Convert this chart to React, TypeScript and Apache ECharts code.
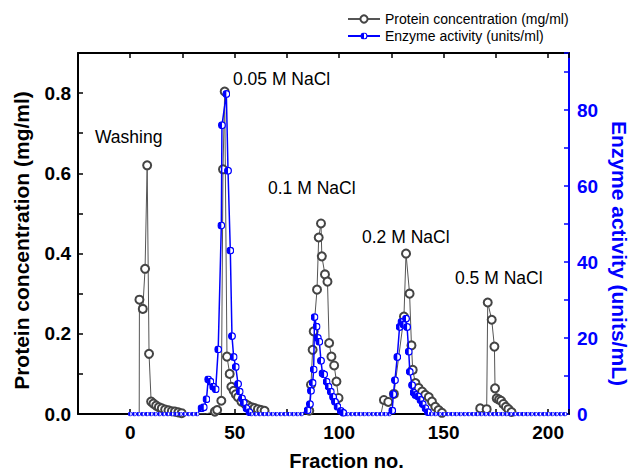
import React, { useEffect, useRef } from "react";
import * as echarts from "echarts";

// Protein concentration (mg/ml) vs fraction
const proteinFraction = [
  0, 4.3, 4.4, 6.0, 7.1, 8.1, 9.0, 10.0, 11.1, 12.4, 13.7, 15.1, 16.7, 18.3, 19.9, 21.4, 23.0, 24.6,
  36, 40.5, 41.6, 43.6, 44.4, 45.2, 46.3, 47.6, 48.4, 49.5, 50.5, 51.6, 53.2, 54.8, 56.4, 58.0, 59.5,
  61.1, 62.7, 64.3, 66,
  84, 85.7, 86.5, 87.3, 87.8, 89.4, 90.2, 91.3, 91.7, 93.2, 94.4, 95.2, 96.3, 97.6, 98.7, 99.7, 101,
  120, 121.4, 123.5, 126.2, 131, 132, 133.7, 134.6, 135.2, 136.5, 138, 139.7, 141.2, 142.9, 144.4,
  146, 147.6, 149.2, 151,
  166, 167.5, 170.6, 171.1, 173, 174.3, 174.6, 175.4, 176.5, 177.5, 178.6, 179.8, 181, 182.5, 184, 205,
];
const proteinConc = [
  0, 0, 0.285, 0.262, 0.362, 0.62, 0.15, 0.031, 0.026, 0.021, 0.017, 0.014, 0.011, 0.009, 0.007, 0.006, 0.004, 0.002,
  0, 0.006, 0.01, 0.033, 0.61, 0.804, 0.143, 0.1, 0.068, 0.058, 0.049, 0.042, 0.031, 0.026, 0.021, 0.017, 0.015,
  0.012, 0.01, 0.008, 0,
  0, 0.008, 0.073, 0.16, 0.206, 0.31, 0.44, 0.475, 0.393, 0.348, 0.33, 0.177, 0.143, 0.121, 0.081, 0.04, 0,
  0, 0.035, 0.03, 0.05, 0.243, 0.4, 0.3, 0.171, 0.11, 0.077, 0.065, 0.056, 0.048, 0.042, 0.031,
  0.018, 0.01, 0.003, 0,
  0, 0.014, 0.012, 0.278, 0.235, 0.168, 0.064, 0.039, 0.036, 0.033, 0.025, 0.018, 0.012, 0.005, 0, 0,
];

// Enzyme activity (units/ml) vs fraction
const enzymeFraction = [
  0, 2, 4, 6, 8, 10, 12, 14, 16, 18, 20, 22, 24, 26, 28, 30, 32,
  34.1, 35.2, 36.5, 37.3, 38.4, 39.7, 40.9, 42.1, 43.6, 43.9, 46, 46.8, 47.9, 48.7, 49.5, 50.5, 51.6,
  52.4, 53.5, 54.3, 55.6, 57, 58,
  60, 62, 64, 66, 68, 70, 72, 74, 76, 78, 80, 82,
  84.9, 86, 86.5, 87.3, 87.8, 88.2, 89.2, 89.8, 90.5, 91.3, 92, 92.8, 94, 94.9, 96, 97.1, 98, 99.2,
  100.8, 102, 104,
  106, 108, 110, 112, 114, 116, 118, 120, 122, 124,
  125.4, 125.9, 126.7, 127.8, 128.9, 129.8, 130.8, 132, 132.5, 133.3, 133.8, 134.9, 135.6, 136.5,
  137.8, 138.9, 140, 141.3, 142.5, 144,
  146, 148, 150, 152, 154, 156, 158, 160, 162, 164, 166, 168, 170, 172, 174, 176, 178, 180, 182,
  184, 186, 188, 190, 192, 194, 196, 198, 200, 202, 204, 206, 208,
];
const enzymeActivity = [
  0, 0, 0, 0, 0, 0, 0, 0, 0, 0, 0, 0, 0, 0, 0, 0, 0,
  1.5, 1.8, 3.9, 9.1, 8.5, 7.2, 6.5, 17, 49.6, 76, 84.2, 64, 43, 20.5, 15, 12.4, 7.9,
  5.9, 4.1, 3, 1.5, 0.5, 0,
  0, 0, 0, 0, 0, 0, 0, 0, 0, 0, 0, 0,
  1.0, 2.6, 6.1, 8.2, 11.7, 25.5, 23, 20, 19, 14, 10.7, 10.4, 8.5, 7.2, 5.9, 4.5, 3.2, 1.9,
  0.8, 0.3, 0,
  0, 0, 0, 0, 0, 0, 0, 0, 0, 0,
  0.9, 5.2, 8.9, 15, 22.9, 24.2, 23.5, 25.1, 22.9, 16.4, 11.1, 7.6, 5.6, 5,
  4.6, 3.7, 2.6, 1.5, 0.5, 0,
  0, 0, 0, 0, 0, 0, 0, 0, 0, 0, 0, 0, 0, 0, 0, 0, 0, 0, 0,
  0, 0, 0, 0, 0, 0, 0, 0, 0, 0, 0, 0, 0,
];

const seriesNames = ["Protein concentration (mg/ml)", "Enzyme activity (units/ml)"];
const xTickLabels = [0, 50, 100, 150, 200];
const leftTickLabels = [0, 0.2, 0.4, 0.6, 0.8];
const rightTickLabels = [0, 20, 40, 60, 80];

const annotations = [
  { text: "Washing", x: 95, y: 137 },
  { text: "0.05 M NaCl", x: 233, y: 79 },
  { text: "0.1 M NaCl", x: 268, y: 188 },
  { text: "0.2 M NaCl", x: 362, y: 237 },
  { text: "0.5 M NaCl", x: 455, y: 278 },
];

const BLUE = "#0000ff";
const FONT = "'Liberation Sans', Arial, sans-serif";
const halfSvg =
  "<svg xmlns='http://www.w3.org/2000/svg' width='20' height='20' viewBox='0 0 20 20'>" +
  "<circle cx='10' cy='10' r='8.3' fill='white' stroke='#0000ff' stroke-width='3.2'/>" +
  "<path d='M10,1.7 A8.3,8.3 0 0,0 10,18.3 Z' fill='#0000ff'/></svg>";
const HALF_CIRCLE = "image://data:image/svg+xml;charset=utf-8," + encodeURIComponent(halfSvg);

export default function App() {
  const ref = useRef<HTMLDivElement>(null);
  useEffect(() => {
    if (!ref.current) return;
    const chart = echarts.init(ref.current, null, { renderer: "svg" });
    const near = (v: number, list: number[]) => list.some((t) => Math.abs(t - v) < 1e-6);
    const proteinData = proteinFraction.map((x, i) => [x, proteinConc[i]]);
    const enzymeData = enzymeFraction.map((x, i) => [x, enzymeActivity[i]]);
    const xAxisBase = {
      type: "value",
      min: -25,
      max: 210,
      interval: 25,
      splitLine: { show: false },
      axisLine: { show: true, onZero: false, lineStyle: { color: "#000", width: 2 } },
      axisTick: { show: true, inside: true, length: 5, lineStyle: { color: "#000", width: 1.5 } },
    };
    chart.setOption({
      animation: false,
      backgroundColor: "#fff",
      grid: { left: 78, right: 62, top: 53, bottom: 59, containLabel: false, outerBoundsMode: "none" },
      legend: {
        data: seriesNames,
        orient: "vertical",
        left: 342,
        top: 7,
        itemWidth: 32,
        itemHeight: 9,
        itemGap: 3,
        textStyle: { fontFamily: FONT, fontSize: 14, color: "#000" },
      },
      xAxis: [
        {
          ...xAxisBase,
          position: "bottom",
          name: "Fraction no.",
          nameLocation: "middle",
          nameGap: 37,
          nameTextStyle: {
            fontFamily: FONT,
            fontSize: 20,
            fontWeight: "bold",
            color: "#000",
            padding: [0, 0, 0, 46],
          },
          axisLabel: {
            margin: 9,
            fontFamily: FONT,
            fontSize: 19,
            fontWeight: "bold",
            color: "#000",
            formatter: (v: number) => (near(v, xTickLabels) ? String(Math.round(v)) : ""),
          },
        },
        {
          ...xAxisBase,
          position: "top",
          axisLabel: { show: false },
        },
      ],
      yAxis: [
        {
          type: "value",
          position: "left",
          min: 0,
          max: 0.9,
          interval: 0.1,
          splitLine: { show: false },
          axisLine: { show: true, onZero: false, lineStyle: { color: "#000", width: 2 } },
          axisTick: { show: true, inside: true, length: 5, lineStyle: { color: "#000", width: 1.5 } },
          name: "Protein concentration (mg/ml)",
          nameLocation: "middle",
          nameGap: 46,
          nameTextStyle: {
            fontFamily: FONT,
            fontSize: 21,
            fontWeight: "bold",
            color: "#000",
            padding: [0, 14, 0, 0],
          },
          axisLabel: {
            margin: 7,
            fontFamily: FONT,
            fontSize: 19,
            fontWeight: "bold",
            color: "#000",
            formatter: (v: number) => (near(v, leftTickLabels) ? v.toFixed(1) : ""),
          },
        },
        {
          type: "value",
          position: "right",
          min: 0,
          max: 95,
          interval: 10,
          splitLine: { show: false },
          axisLine: { show: true, onZero: false, lineStyle: { color: BLUE, width: 2 } },
          axisTick: { show: true, inside: true, length: 5, lineStyle: { color: BLUE, width: 1.5 } },
          name: "Enzyme activity (units/mL)",
          nameLocation: "middle",
          nameRotate: -90,
          nameGap: 40,
          nameTextStyle: {
            fontFamily: FONT,
            fontSize: 21,
            fontWeight: "bold",
            color: BLUE,
            padding: [0, 0, 0, 40],
          },
          axisLabel: {
            margin: 8,
            fontFamily: FONT,
            fontSize: 19,
            fontWeight: "bold",
            color: BLUE,
            formatter: (v: number) => (near(v, rightTickLabels) ? String(Math.round(v)) : ""),
          },
        },
      ],
      series: [
        {
          name: seriesNames[0],
          type: "line",
          xAxisIndex: 0,
          yAxisIndex: 0,
          data: proteinData,
          symbol: "emptyCircle",
          symbolSize: (v: number[]) => (v[1] === 0 ? 0 : 8),
          showAllSymbol: true,
          lineStyle: { color: "#555", width: 1 },
          itemStyle: { color: "#444", borderColor: "#444", borderWidth: 1 },
          z: 2,
        },
        {
          name: seriesNames[1],
          type: "line",
          xAxisIndex: 0,
          yAxisIndex: 1,
          data: enzymeData,
          symbol: HALF_CIRCLE,
          symbolSize: (v: number[]) => (v[1] === 0 ? 5 : 8),
          showAllSymbol: true,
          lineStyle: { color: BLUE, width: 1.5 },
          itemStyle: { color: BLUE },
          z: 3,
        },
      ],
      graphic: annotations.map((a) => ({
        type: "text",
        x: a.x,
        y: a.y,
        z: 10,
        style: {
          text: a.text,
          font: `17.5px ${FONT}`,
          fill: "#000",
          verticalAlign: "middle",
        },
      })),
    });
    return () => chart.dispose();
  }, []);
  return (
    <div
      ref={ref}
      style={{ position: "absolute", left: 0, top: 0, width: 631, height: 473, background: "#fff" }}
    />
  );
}
